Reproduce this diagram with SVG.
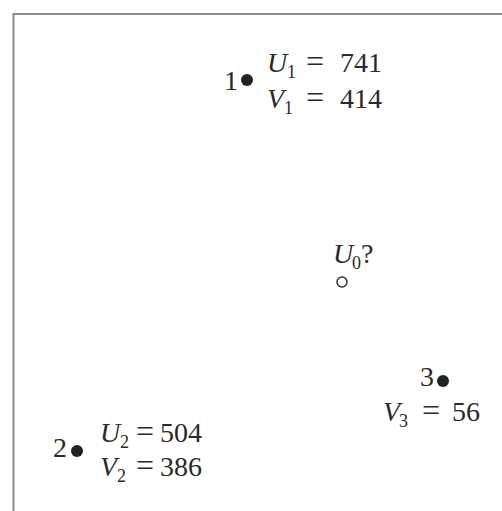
<svg xmlns="http://www.w3.org/2000/svg" width="502" height="511" viewBox="0 0 502 511">
<style>
.t{font-family:"Liberation Serif","Times New Roman",serif;font-size:28px;fill:#2a2a2a}
.i{font-style:italic}
.s{font-size:18px}
.eq{font-size:32px}
.dot{fill:#222}
.open{fill:none;stroke:#333;stroke-width:1.5}
.frame{fill:none;stroke:#8a8a8a;stroke-width:2}
</style>
<rect width="502" height="511" fill="#fff"/>
<path class="frame" d="M13.5,511 V14 H502"/>
<g id="node1">
  <text class="t" x="224" y="90">1</text>
  <circle class="dot" cx="247" cy="80" r="6"/>
  <text class="t" y="72"><tspan class="i" x="267">U</tspan><tspan class="s" x="287" dy="6">1</tspan><tspan class="eq" x="306" dy="-6">=</tspan><tspan x="340">741</tspan></text>
  <text class="t" y="108"><tspan class="i" x="267">V</tspan><tspan class="s" x="284" dy="6">1</tspan><tspan class="eq" x="306" dy="-6">=</tspan><tspan x="340">414</tspan></text>
</g>
<g id="node0">
  <text class="t" y="263"><tspan class="i" x="333">U</tspan><tspan class="s" x="352" dy="6">0</tspan><tspan x="361" dy="-6">?</tspan></text>
  <circle class="open" cx="342" cy="282" r="5"/>
</g>
<g id="node3">
  <text class="t" x="420" y="386">3</text>
  <circle class="dot" cx="443" cy="381" r="6"/>
  <text class="t" y="421"><tspan class="i" x="383">V</tspan><tspan class="s" x="399" dy="6">3</tspan><tspan class="eq" x="422" dy="-6">=</tspan><tspan x="452">56</tspan></text>
</g>
<g id="node2">
  <text class="t" x="53" y="457">2</text>
  <circle class="dot" cx="77" cy="451" r="6"/>
  <text class="t" y="442"><tspan class="i" x="100">U</tspan><tspan class="s" x="120" dy="6">2</tspan><tspan class="eq" x="136" dy="-6">=</tspan><tspan x="160">504</tspan></text>
  <text class="t" y="476"><tspan class="i" x="100">V</tspan><tspan class="s" x="117" dy="6">2</tspan><tspan class="eq" x="136" dy="-6">=</tspan><tspan x="160">386</tspan></text>
</g>
<g id="connectors"></g>
</svg>
